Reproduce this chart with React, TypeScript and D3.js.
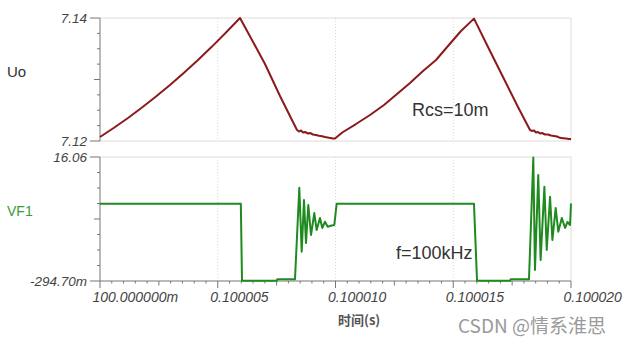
import React from "react";
import * as d3 from "d3";

// time in microseconds after 0.1 s
const xTickValues = [0, 5, 10, 15, 20];
const xTickLabels = ["100.000000m", "0.100005", "0.100010", "0.100015", "0.100020"];

const uoDomain = [7.12, 7.14];
const uoTickLabels = ["7.12", "7.14"];
const vfDomain = [-0.2947, 16.06];
const vfTickLabels = ["-294.70m", "16.06"];

const uoTime = [
  0, 0.594, 1.189, 1.783, 2.378, 2.972, 3.567, 4.161, 4.756, 5.35, 5.945,
  6.454, 7.006, 7.643, 8.195, 8.365,
  8.45, 8.535, 8.62, 8.705, 8.832, 8.917, 9.045, 9.172, 9.299, 9.427, 9.554, 9.724, 9.894, 9.979,
  10.106, 10.318, 10.871, 11.465, 12.059, 12.612, 13.164, 13.716, 14.268, 14.777, 15.329, 15.881,
  16.518, 17.113, 17.749, 18.259,
  18.344, 18.429, 18.514, 18.599, 18.684, 18.769, 18.896, 19.023, 19.151, 19.278, 19.405, 19.533, 19.66, 19.788, 19.915, 20.0,
];
const uoValue = [
  7.12065, 7.12215, 7.12374, 7.12545, 7.12724, 7.12912, 7.13111, 7.13317, 7.13535, 7.13763, 7.14,
  7.13642, 7.13252, 7.12732, 7.12309, 7.12179,
  7.12154, 7.12171, 7.12138, 7.12146, 7.12122, 7.1213, 7.12106, 7.12098, 7.12085, 7.12076, 7.12065, 7.12052, 7.12041, 7.12041,
  7.12081, 7.12146, 7.12276, 7.12423, 7.12585, 7.12764, 7.12943, 7.13138, 7.13317, 7.13545, 7.13789, 7.1399,
  7.13496, 7.13041, 7.12553, 7.12179,
  7.12163, 7.12171, 7.12138, 7.12146, 7.12122, 7.1213, 7.12106, 7.12106, 7.12089, 7.12081, 7.12073, 7.12052, 7.12046, 7.12041, 7.12033, 7.12033,
];

const vfTime = [
  0, 5.98, 6.03, 7.5, 7.53, 8.28, 8.463, 8.565, 8.662, 8.747, 8.845, 8.96, 9.1, 9.2, 9.34, 9.44,
  9.554, 9.669, 9.8, 9.949, 10.05, 15.88, 16.01, 17.41, 17.44, 18.216, 18.4, 18.47, 18.61, 18.71,
  18.87, 18.97, 19.11, 19.21, 19.35, 19.46, 19.61, 19.75, 19.85, 19.96, 20.0,
];
const vfValue = [
  9.9, 9.9, -0.27, -0.27, -0.07, -0.07, 12.0, 3.57, 10.39, 4.72, 9.73, 5.77, 8.67, 6.43, 8.01, 6.7,
  7.53, 6.87, 7.0, 7.09, 9.9, 9.9, -0.27, -0.27, -0.07, -0.07, 16.0, 1.16, 13.69, 2.47,
  12.14, 3.79, 10.82, 5.11, 9.33, 6.21, 8.01, 6.7, 7.49, 7.09, 9.93,
];

const FONT = "'Liberation Sans', Arial, sans-serif";
const CJK = "'Noto Sans CJK SC', sans-serif";

export default function App() {
  const left = 100, right = 571;
  const x = d3.scaleLinear().domain([0, 20]).range([left, right]);
  const yTop = d3.scaleLinear().domain(uoDomain).range([141, 18]);
  const yBot = d3.scaleLinear().domain(vfDomain).range([281, 157]);

  const uoData = uoTime.map((t, i) => [t, uoValue[i]] as [number, number]);
  const vfData = vfTime.map((t, i) => [t, vfValue[i]] as [number, number]);
  const uoLine = d3.line<[number, number]>().x(d => x(d[0])).y(d => yTop(d[1]));
  const vfLine = d3.line<[number, number]>().x(d => x(d[0])).y(d => yBot(d[1]));

  const minorX = d3.range(0, 41).map(i => i * 0.5);
  const minorY = d3.range(0, 9).map(i => i / 8);

  const yAxis = (scale: d3.ScaleLinear<number, number>, labels: string[], key: string) => {
    const [d0, d1] = scale.domain();
    return (
      <g key={key}>
        <line x1={left} x2={left} y1={scale(d1)} y2={scale(d0)} stroke="#777" strokeWidth={1} />
        {minorY.map((f, i) => {
          const yy = scale(d0 + f * (d1 - d0));
          const len = i === 0 || i === 8 ? 10 : i === 4 ? 6 : 3;
          return <line key={i} x1={left - len} x2={left} y1={yy} y2={yy} stroke="#777" strokeWidth={1} />;
        })}
        {[d0, d1].map((v, i) => (
          <text key={i} x={87} y={scale(v)} dy="0.36em" textAnchor="end" fontFamily={FONT} fontSize={13.5}
            fontStyle="italic" fill="#444">{labels[i]}</text>
        ))}
      </g>
    );
  };

  const panelFrame = (y0: number, y1: number, key: string) => (
    <g key={key}>
      <line x1={left} x2={right} y1={y0} y2={y0} stroke="#dcdcdc" strokeWidth={1} />
      <line x1={right} x2={right} y1={y0} y2={y1} stroke="#dcdcdc" strokeWidth={1} />
      {xTickValues.slice(1, 4).map(t => (
        <line key={t} x1={x(t)} x2={x(t)} y1={y0} y2={y1} stroke="#d8d8d8" strokeWidth={1} strokeDasharray="1,2" />
      ))}
    </g>
  );

  return (
    <svg width={625} height={345} style={{ position: "absolute", left: 0, top: 0, background: "#fff" }}>
      <rect width={625} height={345} fill="#fff" />
      {panelFrame(18, 141, "pt")}
      {panelFrame(157, 281, "pb")}
      <line x1={left} x2={right} y1={141} y2={141} stroke="#dcdcdc" strokeWidth={1} />
      {yAxis(yTop, uoTickLabels, "ya")}
      {yAxis(yBot, vfTickLabels, "yb")}
      {/* x axis */}
      <line x1={left} x2={right} y1={281} y2={281} stroke="#777" strokeWidth={1} />
      {minorX.map((t, i) => {
        const len = i % 10 === 0 ? 7 : i % 5 === 0 ? 4.5 : 2.5;
        return <line key={i} x1={x(t)} x2={x(t)} y1={281} y2={281 + len} stroke="#777" strokeWidth={1} />;
      })}
      {xTickValues.map((t, i) => (
        <text key={t} x={x(t) - 7.5} y={302} fontFamily={FONT} fontSize={14} fontStyle="italic" fill="#444">
          {xTickLabels[i]}
        </text>
      ))}
      <text x={338} y={325} fontFamily={CJK} fontSize={13} fill="#555" fontWeight="bold">时间(s)</text>

      <path d={uoLine(uoData) || ""} fill="none" stroke="#8b1a1a" strokeWidth={2} strokeLinejoin="round" />
      <path d={vfLine(vfData) || ""} fill="none" stroke="#1f8a1f" strokeWidth={2} strokeLinejoin="round" />

      <text x={7} y={77} fontFamily={FONT} fontSize={15} fill="#333">Uo</text>
      <text x={7} y={216} fontFamily={FONT} fontSize={14} fill="#3a9a3a">VF1</text>
      <text x={412} y={116} fontFamily={FONT} fontSize={18} fill="#333">Rcs=10m</text>
      <text x={396} y={259} fontFamily={FONT} fontSize={18} fill="#333">f=100kHz</text>
      <text x={458} y={333} fontFamily={CJK} fontSize={19} fill="#9a9a9a">CSDN @情系淮思</text>
    </svg>
  );
}
